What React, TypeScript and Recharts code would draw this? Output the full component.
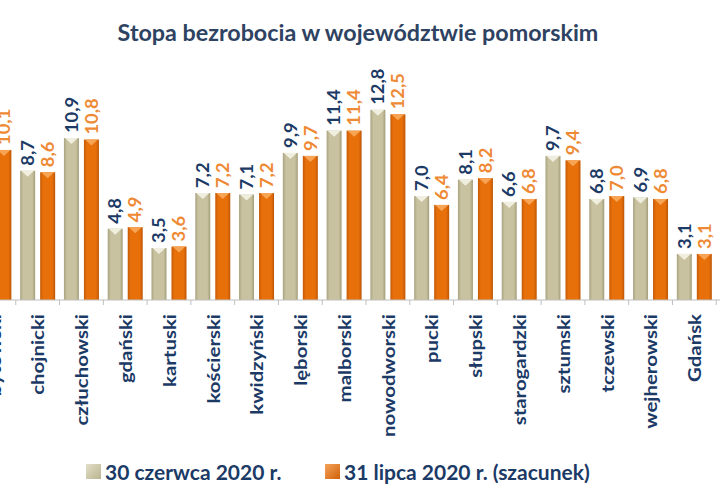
import { BarChart, Bar, XAxis, YAxis, LabelList } from 'recharts'

const categories = [
  'bytowski', 'chojnicki', 'człuchowski', 'gdański', 'kartuski', 'kościerski',
  'kwidzyński', 'lęborski', 'malborski', 'nowodworski', 'pucki', 'słupski',
  'starogardzki', 'sztumski', 'tczewski', 'wejherowski', 'Gdańsk', 'Gdynia',
]
const june = [10.3, 8.7, 10.9, 4.8, 3.5, 7.2, 7.1, 9.9, 11.4, 12.8, 7.0, 8.1, 6.6, 9.7, 6.8, 6.9, 3.1, 3.0]
const july = [10.1, 8.6, 10.8, 4.9, 3.6, 7.2, 7.2, 9.7, 11.4, 12.5, 6.4, 8.2, 6.8, 9.4, 7.0, 6.8, 3.1, 3.0]

const seriesNames = ['30 czerwca 2020 r.', '31 lipca 2020 r. (szacunek)']
const title = 'Stopa bezrobocia w województwie pomorskim'

const data = categories.map((name, i) => ({ name, june: june[i], july: july[i] }))

const FONT = 'Lato, "Open Sans", sans-serif'
const NAVY = '#1c3a66'
const CHART_W = 788
const BAND = CHART_W / categories.length

const fmt = (v: number) => v.toFixed(1).replace('.', ',')

// bar with a light bevel triangle on top, like the Excel 3-D style
function BevelBar(props: any) {
  const { x, y, width, height, grad, cap } = props
  if (!height || height <= 0) return null
  return (
    <g>
      <rect x={x} y={y} width={width} height={height} fill={`url(#${grad})`} />
      <polygon
        points={`${x + 1},${y} ${x + width - 1},${y} ${x + width / 2},${y + 6}`}
        fill={cap}
      />
    </g>
  )
}

function makeLabel(color: string) {
  return (props: any) => {
    const { x, y, width, value } = props
    const cx = x + width / 2
    const ty = y - 5
    return (
      <text
        x={0}
        y={0}
        transform={`translate(${cx}, ${ty}) rotate(-90) scale(1.08, 1)`}
        textAnchor="start"
        dominantBaseline="central"
        fill={color}
        fontFamily={FONT}
        fontWeight={700}
        fontSize={17}
      >
        {fmt(value)}
      </text>
    )
  }
}

function CategoryTick(props: any) {
  const { x, y, payload } = props
  const left = x - BAND / 2
  return (
    <g>
      <line x1={left} y1={y} x2={left} y2={y + 5} stroke="#bfbfbf" />
      <text
        x={0}
        y={0}
        transform={`translate(${x}, ${y + 14}) rotate(-90) scale(1.2, 1)`}
        textAnchor="end"
        dominantBaseline="central"
        fill={NAVY}
        fontFamily={FONT}
        fontWeight={700}
        fontSize={17}
      >
        {payload.value}
      </text>
    </g>
  )
}

export default function App() {
  return (
    <div
      style={{
        position: 'fixed',
        left: 0,
        top: 0,
        width: 720,
        height: 500,
        overflow: 'hidden',
        background: '#fff',
        fontFamily: FONT,
      }}
    >
      <div
        style={{
          position: 'absolute',
          top: 19,
          left: 0,
          width: 716,
          textAlign: 'center',
          fontSize: 23.3,
          lineHeight: '27px',
          fontWeight: 700,
          color: '#2e4262',
          whiteSpace: 'nowrap',
        }}
      >
        {title}
      </div>

      <div style={{ position: 'absolute', left: -28, top: 0 }}>
        <BarChart
          width={CHART_W}
          height={500}
          data={data}
          margin={{ top: 92, right: 0, left: 0, bottom: 0 }}
          barCategoryGap="10%"
          barGap={5}
        >
          <defs>
            <linearGradient id="gGrey" x1="0" y1="0" x2="1" y2="0">
              <stop offset="0%" stopColor="#a9a380" />
              <stop offset="20%" stopColor="#c8c2a0" />
              <stop offset="80%" stopColor="#c8c2a0" />
              <stop offset="100%" stopColor="#a39d79" />
            </linearGradient>
            <linearGradient id="gOrange" x1="0" y1="0" x2="1" y2="0">
              <stop offset="0%" stopColor="#c45a06" />
              <stop offset="20%" stopColor="#e8700b" />
              <stop offset="80%" stopColor="#e8700b" />
              <stop offset="100%" stopColor="#bd5505" />
            </linearGradient>
          </defs>
          <XAxis
            dataKey="name"
            interval={0}
            height={200}
            axisLine={{ stroke: '#bfbfbf' }}
            tickLine={false}
            tickSize={0}
            tickMargin={0}
            tick={<CategoryTick />}
          />
          <YAxis hide domain={[0, 14]} />
          <Bar
            dataKey="june"
            name={seriesNames[0]}
            isAnimationActive={false}
            shape={(p: any) => <BevelBar {...p} grad="gGrey" cap="#f0efdf" />}
          >
            <LabelList dataKey="june" content={makeLabel(NAVY)} />
          </Bar>
          <Bar
            dataKey="july"
            name={seriesNames[1]}
            isAnimationActive={false}
            shape={(p: any) => <BevelBar {...p} grad="gOrange" cap="#f7a454" />}
          >
            <LabelList dataKey="july" content={makeLabel('#ee8a35')} />
          </Bar>
        </BarChart>
      </div>

      <div
        style={{
          position: 'absolute',
          top: 460,
          left: 0,
          width: 720,
          height: 26,
          fontSize: 21,
          lineHeight: '24px',
          fontWeight: 700,
          color: NAVY,
        }}
      >
        <span
          style={{
            position: 'absolute',
            left: 86,
            top: 4,
            width: 15,
            height: 15,
            background: 'linear-gradient(135deg, #e2dfc8, #bab48f)',
          }}
        />
        <span style={{ position: 'absolute', left: 105, top: 0, whiteSpace: 'nowrap' }}>
          {seriesNames[0]}
        </span>
        <span
          style={{
            position: 'absolute',
            left: 325,
            top: 4,
            width: 15,
            height: 15,
            background: 'linear-gradient(135deg, #f5a45a, #d0600a)',
          }}
        />
        <span style={{ position: 'absolute', left: 344, top: 0, whiteSpace: 'nowrap' }}>
          {seriesNames[1]}
        </span>
      </div>
    </div>
  )
}
